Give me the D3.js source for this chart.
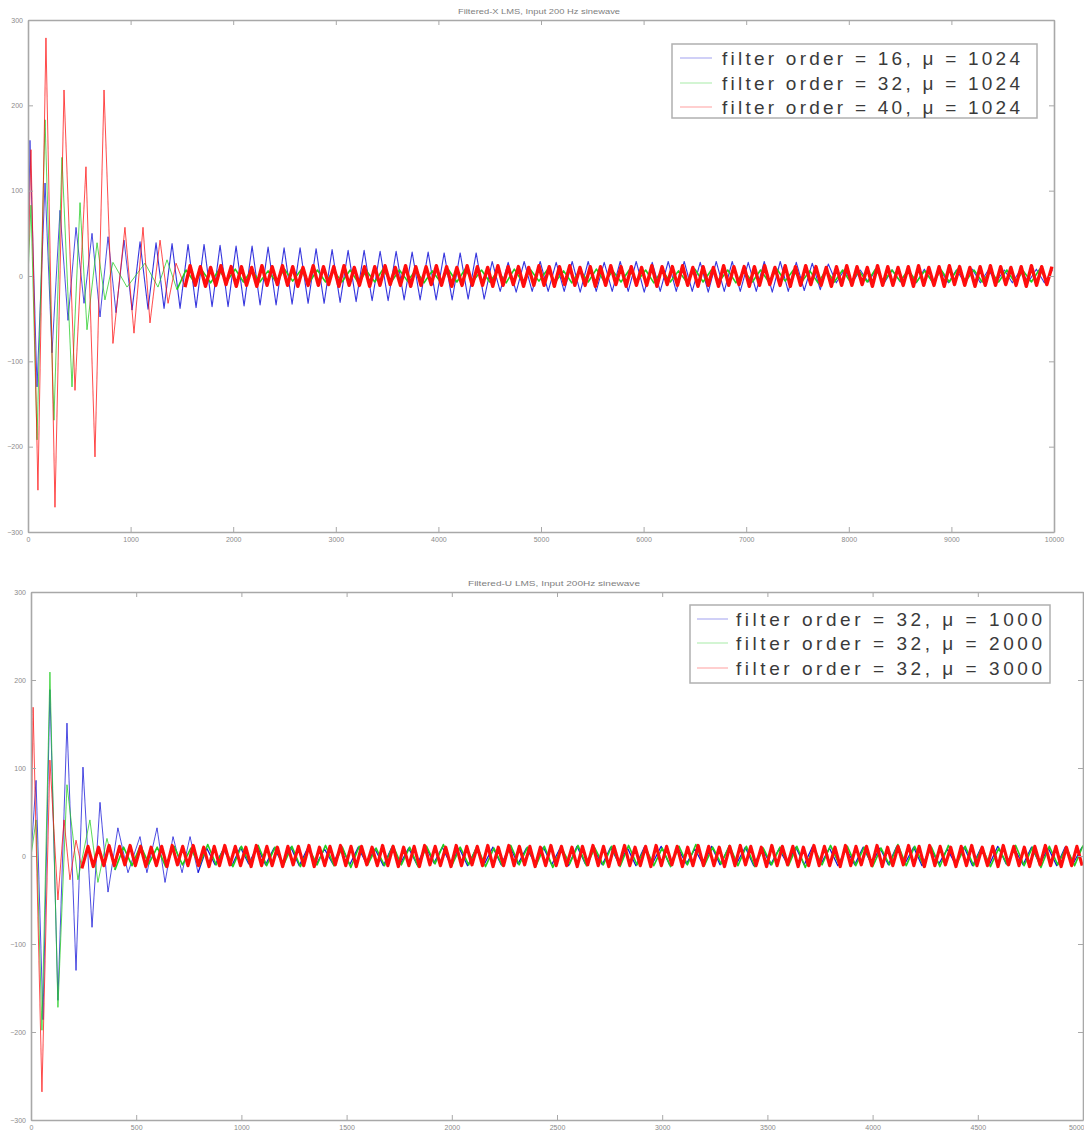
<!DOCTYPE html>
<html>
<head>
<meta charset="utf-8">
<script src="https://cdn.jsdelivr.net/npm/d3@7"></script>
<style>
  body { margin: 0; background: #fff; }
  svg { display: block; font-family: "Liberation Sans", Arial, sans-serif; }
</style>
</head>
<body>
<svg id="chart" width="1084" height="1131"></svg>
<script>
// ---------- data ----------
const yTicks = [-300, -200, -100, 0, 100, 200, 300];
const topXTicks = [0, 1000, 2000, 3000, 4000, 5000, 6000, 7000, 8000, 9000, 10000];
const botXTicks = [0, 500, 1000, 1500, 2000, 2500, 3000, 3500, 4000, 4500, 5000];

const topTitle = "Filtered-X LMS, Input 200 Hz sinewave";
const botTitle = "Filtered-U LMS, Input 200Hz sinewave";
const topLabels = ["filter order = 16, \u03bc = 1024", "filter order = 32, \u03bc = 1024", "filter order = 40, \u03bc = 1024"];
const botLabels = ["filter order = 32, \u03bc = 1000", "filter order = 32, \u03bc = 2000", "filter order = 32, \u03bc = 3000"];

// top panel: peaks of the start-up transient [sample, value]
const topBluePeaks = [[0,0],[19,159],[88,-130],[166,109],[234,-90],[312,77],[390,-52],[468,57],[546,-32],[624,50],[702,-48],[780,46],[858,-43],[936,42],[1014,-40]];
const topGreenPeaks = [[0,0],[29,83],[88,-192],[166,183],[253,-169],[331,139],[429,-130],[507,86],[575,-63],[673,39],[750,-28],[828,16],[965,-13],[1140,15],[1267,-13],[1355,19],[1452,-16]];
const topRedPeaks = [[0,0],[29,148],[97,-251],[175,279],[263,-271],[351,218],[458,-134],[565,128],[653,-212],[741,218],[828,-79],[945,57],[1033,-67],[1121,57],[1189,-55],[1287,42],[1365,-32],[1443,15],[1530,-13]];

// top panel: residual oscillation after the transient (start, step, values)
const topBlueTail = [40,-39,39,-38,38,-38,37,-37,37,-36,36,-36,35,-35,35,-34,34,-34,33,-33,33,-32,32,-32,31,
  -31,30,-30,30,-29,29,-29,29,-28,28,-28,28,-28,27,-28,27,-27,27,-27,
  17,-18,16,-19,17,-18,17,-18,16,-18,17,-19,17,-18,16,-18,17,-18,17,-19,16,-18,17,-18,17,-18,16,-19,17,-18,17,-18,16,-18,17,-19,17,-18,16,-17,15,-16,14,
  -8,7,-8,7,-7,8,-8,7,-7,7,-8,8,-7,7,-8,7,-7,8,-8,7,-7,7,-8,7,-7,8,-8,7];
const topGreenTail = [7,-7,6,-8,7,-6,8,-7,7,-7,6,-7,8,-6,7,-8,7,-7,6,-7,
  7,-8,6,-7,8,-7,7,-6,7,-8,6,-7,7,-7,8,-6,7,-7,6,-8,
  8,-7,7,-6,7,-7,6,-8,7,-7,8,-7,6,-7,7,-6,7,-8,7,-7,
  6,-7,8,-7,7,-6,7,-8,6,-7,7,-7,8,-6,7,-7,6,-8,7,-7,
  7,-8,6,-7,8,-7,7,-6,7,-7,6,-8,7,-7,8,-6,7,-7,6,-7,
  7,-8,6,-7,8,-7];
const topRedTail = [12,-11,11,-12,10,-11,12,-10,11,-12,11,-11,10,-12,12,-11,11,-10,12,-11,
  11,-12,10,-11,12,-11,11,-10,11,-12,12,-11,10,-11,11,-12,11,-11,12,-10,
  10,-11,12,-12,11,-11,11,-10,12,-11,11,-12,10,-11,12,-11,11,-11,10,-12,
  12,-11,11,-10,11,-12,10,-11,12,-11,11,-12,11,-10,12,-11,10,-11,11,-12,
  11,-11,12,-10,11,-12,11,-11,10,-11,12,-12,11,-10,11,-11,12,-11,10,-12,
  11,-11,10,-12,12,-11,11,-10,11,-12,11,-11,12,-10,10,-11,12,-12,11,-11,
  12,-10,11,-11,10,-12,11,-11,12,-11,11,-10,10,-12,12,-11,11,-11,10,-11,
  11,-12,12,-11,10,-11,11,-12,12,-10,11,-11,10,-12,11,-11,12,-11,11,-10,
  10,-11,11,-12,12,-11,11,-10,11];

// bottom panel
const botBluePeaks = [[0,0],[24,86],[57,-186],[90,189],[128,-164],[171,151],[214,-130],[247,101],[290,-81],[328,61],[366,-41],[413,32],[461,-19],[518,22],[551,-19],[599,32],[637,-30],[675,22],[718,-19],[756,22],[794,-19]];
const botGreenPeaks = [[0,0],[24,41],[52,-198],[90,209],[128,-172],[171,81],[223,-27],[280,41],[318,-30],[361,20],[399,-16]];
const botRedPeaks = [[0,0],[10,169],[52,-268],[90,109],[128,-50],[157,41],[185,-27],[214,18],[242,-14]];

const botBlueTail = [9,-10,8,-11,10,-9,11,-10,9,-8,10,-11,9,-10,8,-9,11,-10,10,-9,
  8,-11,10,-9,9,-10,11,-8,10,-10,9,-11,8,-9,10,-10,11,-9,9,-8,
  10,-10,9,-11,11,-9,8,-10,10,-9,9,-11,10,-8,11,-10,9,-9,8,-10,
  11,-10,9,-8,10,-11,9,-10,8,-9,10,-10,11,-9,9,-11,8,-10,10,-9,
  9,-10,11,-8,10,-11,9,-9,8,-10,10,-11,9,-10,11,-9,8,-10,10,-9,
  9,-11,10,-8,10];
const botGreenTail = [10,-11,12,-9,10,-12,11,-10,9,-11,13,-10,10,-12,11,-9,12,-11,10,-10,
  11,-12,9,-10,12,-11,10,-13,11,-10,9,-11,12,-10,10,-12,11,-9,13,-11,
  10,-10,11,-12,9,-11,12,-10,10,-11,11,-13,10,-9,12,-11,9,-10,11,-12,
  12,-10,10,-11,9,-12,11,-10,13,-11,10,-9,12,-11,11,-12,9,-10,10,-11,
  11,-13,10,-10,12,-9,11,-11,10,-12,9,-10,13,-11,11,-10,10,-12,12,-9,
  11,-11,10,-12,9,-10,12,-11,10,-13,11,-10,10,-11,12];
const botRedTail = [11,-12,10,-11,12,-11,11,-10,12,-11,11,-12,10,-11,11,-12,12,-10,11,-11,
  12,-11,10,-12,11,-11,12,-10,11,-11,10,-12,12,-11,11,-11,10,-12,11,-10,
  11,-11,12,-12,10,-11,11,-10,12,-11,11,-12,11,-10,10,-11,12,-11,11,-12,
  10,-11,11,-12,12,-10,11,-11,10,-12,12,-11,11,-10,11,-11,12,-12,10,-11,
  12,-11,11,-10,11,-12,10,-11,12,-11,11,-11,10,-12,11,-10,12,-11,11,-12,
  11,-10,12,-11,10,-11,11,-12,12,-11,11,-10,11,-12,10,-11,12,-11,11,-11,
  10,-12,11,-11,12,-10,11,-11,10,-12,12,-11,11,-10,11,-12,10,-11,12,-11,
  11,-11,10,-12,12,-11,11,-10,11,-11,12,-12,10,-11,11,-10,12,-11,11,-12,
  12,-11,11,-10,10,-12,11,-11,12,-11,10,-11,11,-12,12,-10,11,-11,10,-12,
  11,-10,12,-11,11,-12,10,-11,11,-11];

const colors = ["#1414d8", "#22cc22", "#ff1010"];

// ---------- drawing ----------
var svg = d3.select("#chart");
var defs = svg.append("defs");

// the source picture is a soft, upscaled screenshot
defs.append("filter").attr("id", "soft")
  .append("feGaussianBlur").attr("stdDeviation", 0.55);

function drawPanel(p) {
  var x = d3.scaleLinear().domain([p.xTicks[0], p.xTicks[p.xTicks.length - 1]]).range([p.left, p.right]);
  var y = d3.scaleLinear().domain([yTicks[0], yTicks[yTicks.length - 1]]).range([p.bottom, p.top]);

  defs.append("clipPath").attr("id", "clip-" + p.id)
    .append("rect")
    .attr("x", p.left).attr("y", p.top)
    .attr("width", p.right - p.left).attr("height", p.bottom - p.top);

  var g = svg.append("g").attr("clip-path", "url(#clip-" + p.id + ")")
    .append("g").attr("filter", "url(#soft)");
  var line = d3.line().x(d => x(d[0])).y(d => y(d[1]));

  p.series.forEach((s, i) => {
    var last = s.peaks[s.peaks.length - 1];
    var tail = [last].concat(s.tail.map((v, k) => [s.start + k * s.step, v]));
    g.append("path").datum(s.peaks)
      .attr("fill", "none").attr("stroke", colors[i]).attr("stroke-width", 1)
      .attr("stroke-opacity", 0.75)
      .attr("stroke-linejoin", "round")
      .attr("d", line);
    g.append("path").datum(tail)
      .attr("fill", "none").attr("stroke", colors[i]).attr("stroke-width", s.tw)
      .attr("stroke-opacity", s.op)
      .attr("stroke-linejoin", "round")
      .attr("d", line);
  });

  // box with inward ticks on all four sides
  var fmt = d3.format("d");
  var axes = [
    [d3.axisBottom(x).tickValues(p.xTicks).tickFormat(fmt), "translate(0," + p.bottom + ")"],
    [d3.axisTop(x).tickValues(p.xTicks).tickFormat(""), "translate(0," + p.top + ")"],
    [d3.axisLeft(y).tickValues(yTicks).tickFormat(fmt), "translate(" + p.left + ",0)"],
    [d3.axisRight(y).tickValues(yTicks).tickFormat(""), "translate(" + p.right + ",0)"]
  ];
  axes.forEach(a => {
    var ax = svg.append("g").attr("transform", a[1])
      .call(a[0].tickSizeInner(-5).tickSizeOuter(0).tickPadding(5));
    ax.select(".domain").attr("stroke", "#a8a8a8").attr("stroke-width", 1.6);
    ax.selectAll(".tick line").attr("stroke", "#a8a8a8").attr("stroke-width", 1);
    ax.selectAll("text").attr("fill", "#8a8a8a").attr("font-size", 7)
      .attr("font-family", "Liberation Sans, Arial, sans-serif");
  });
  // keep the last x label inside the page
  if (p.right > 1070) {
    svg.selectAll("g").filter(function () { return this.getAttribute("transform") === "translate(0," + p.bottom + ")"; })
      .selectAll(".tick:last-of-type text").attr("text-anchor", "end").attr("x", 1);
  }

  svg.append("text")
    .attr("x", p.titleX).attr("y", p.top - 6)
    .attr("text-anchor", "middle")
    .attr("font-size", 7).attr("fill", "#808080")
    .attr("textLength", p.titleW).attr("lengthAdjust", "spacingAndGlyphs")
    .text(p.title);

  // legend
  var L = p.legend;
  var lg = svg.append("g").attr("transform", "translate(" + L.x + "," + L.y + ")");
  lg.append("rect").attr("width", L.w).attr("height", L.h)
    .attr("fill", "#fff").attr("stroke", "#b0b0b0").attr("stroke-width", 1.5);
  p.labels.forEach((lab, i) => {
    var ry = L.rows[i];
    lg.append("line").attr("x1", L.lx1).attr("x2", L.lx2).attr("y1", ry).attr("y2", ry)
      .attr("stroke", colors[i]).attr("stroke-width", 1).attr("stroke-opacity", 0.4);
    lg.append("text").attr("x", L.tx).attr("y", ry).attr("dy", "0.36em")
      .attr("font-size", 19).attr("fill", "#3a3a3a")
      .attr("textLength", L.tw).attr("lengthAdjust", "spacing")
      .text(lab);
  });
}

drawPanel({
  id: "top", left: 28, right: 1054, top: 20, bottom: 532,
  xTicks: topXTicks, title: topTitle, titleX: 539, titleW: 162,
  labels: topLabels,
  legend: { x: 672, y: 44, w: 365, h: 74, rows: [14, 39, 63], lx1: 8, lx2: 40, tx: 50, tw: 298 },
  series: [
    { peaks: topBluePeaks, tail: topBlueTail, start: 1092, step: 78, tw: 1.1, op: 0.85 },
    { peaks: topGreenPeaks, tail: topGreenTail, start: 1540, step: 80, tw: 1.6, op: 1 },
    { peaks: topRedPeaks, tail: topRedTail, start: 1580, step: 50, tw: 3.4, op: 1 }
  ]
});

drawPanel({
  id: "bot", left: 31, right: 1083, top: 592, bottom: 1120,
  xTicks: botXTicks, title: botTitle, titleX: 554, titleW: 172,
  labels: botLabels,
  legend: { x: 690, y: 605, w: 360, h: 78, rows: [14, 38, 63], lx1: 7, lx2: 38, tx: 46, tw: 306 },
  series: [
    { peaks: botBluePeaks, tail: botBlueTail, start: 835, step: 40, tw: 1.3, op: 1 },
    { peaks: botGreenPeaks, tail: botGreenTail, start: 440, step: 40, tw: 1.6, op: 1 },
    { peaks: botRedPeaks, tail: botRedTail, start: 271, step: 25, tw: 3.2, op: 1 }
  ]
});
</script>
</body>
</html>
